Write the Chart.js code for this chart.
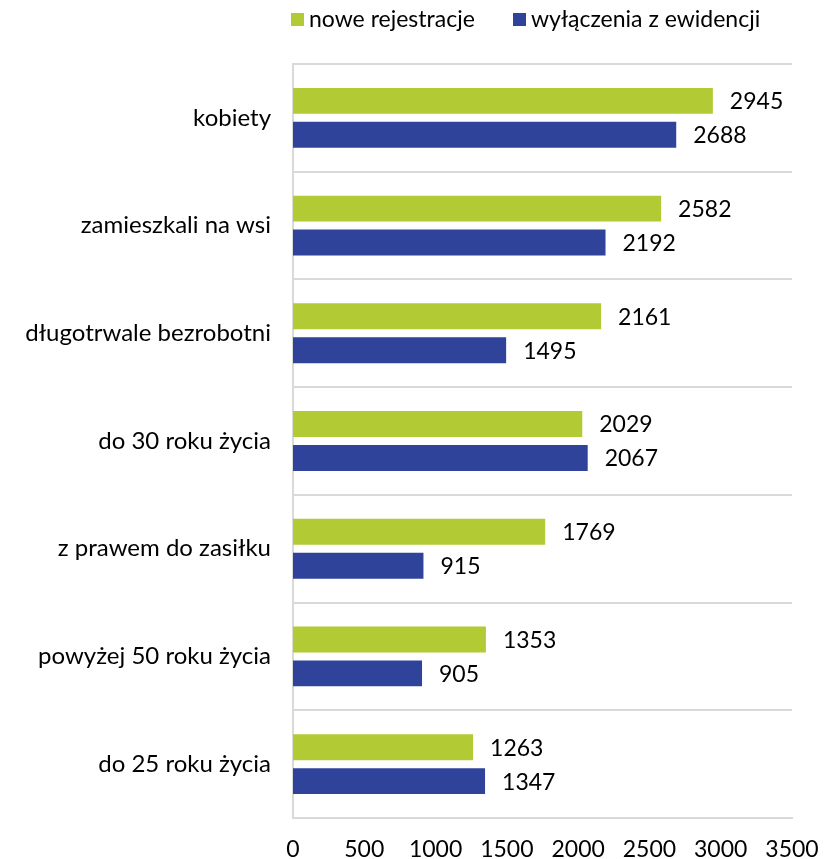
<!DOCTYPE html>
<html lang="pl">
<head>
<meta charset="utf-8">
<title>Nowe rejestracje i wyłączenia z ewidencji</title>
<script src="https://cdn.jsdelivr.net/npm/chart.js@4.4.1/dist/chart.umd.min.js"></script>
<style>
  html, body { margin: 0; padding: 0; background: #ffffff; }
  #wrap { position: relative; width: 825px; height: 859px; }
</style>
</head>
<body>
<div id="wrap"><canvas id="chart" width="825" height="859"></canvas></div>
<script>
const categories = [
  'kobiety',
  'zamieszkali na wsi',
  'długotrwale bezrobotni',
  'do 30 roku życia',
  'z prawem do zasiłku',
  'powyżej 50 roku życia',
  'do 25 roku życia'
];
const seriesNames = ['nowe rejestracje', 'wyłączenia z ewidencji'];
const noweRejestracje = [2945, 2582, 2161, 2029, 1769, 1353, 1263];
const wylaczenia = [2688, 2192, 1495, 2067, 915, 905, 1347];
const xTicks = [0, 500, 1000, 1500, 2000, 2500, 3000, 3500];

const GREEN = '#B2CB35';
const BLUE = '#2E4399';
const FONT = 'Lato, "Open Sans", sans-serif';
const FONT_SIZE = 23;
const CATEGORY_FONT_SIZE = 24;

// value labels at the end of each bar
const valueLabels = {
  id: 'valueLabels',
  afterDatasetsDraw(chart) {
    const ctx = chart.ctx;
    ctx.save();
    ctx.font = FONT_SIZE + 'px ' + FONT;
    ctx.fillStyle = '#000000';
    ctx.textAlign = 'left';
    ctx.textBaseline = 'middle';
    chart.data.datasets.forEach((ds, di) => {
      const meta = chart.getDatasetMeta(di);
      meta.data.forEach((bar, i) => {
        ctx.fillText(String(ds.data[i]), bar.x + 17, bar.y + 1);
      });
    });
    ctx.restore();
  }
};

// legend row above the plot
const topLegend = {
  id: 'topLegend',
  afterDraw(chart) {
    const ctx = chart.ctx;
    ctx.save();
    ctx.font = FONT_SIZE + 'px ' + FONT;
    ctx.textBaseline = 'middle';
    ctx.textAlign = 'left';
    const y = 20;
    const starts = [291, 513];
    chart.data.datasets.forEach((ds, i) => {
      const x = starts[i];
      ctx.fillStyle = ds.backgroundColor;
      ctx.fillRect(x, y - 7, 13, 13);
      ctx.fillStyle = '#000000';
      ctx.fillText(ds.label, x + 18, y);
    });
    ctx.restore();
  }
};

new Chart(document.getElementById('chart'), {
  type: 'bar',
  data: {
    labels: categories,
    datasets: [
      { label: seriesNames[0], data: noweRejestracje, backgroundColor: GREEN,
        barPercentage: 0.765, categoryPercentage: 0.63 },
      { label: seriesNames[1], data: wylaczenia, backgroundColor: BLUE,
        barPercentage: 0.765, categoryPercentage: 0.63 }
    ]
  },
  options: {
    indexAxis: 'y',
    responsive: false,
    animation: false,
    layout: { padding: { top: 64, right: 33, bottom: 0, left: 0 } },
    plugins: {
      legend: { display: false },
      tooltip: { enabled: false }
    },
    scales: {
      x: {
        min: 0,
        max: 3500,
        afterBuildTicks(scale) { scale.ticks = xTicks.map(v => ({ value: v })); },
        afterFit(scale) {
          scale.height = 41;
          scale.paddingLeft = 0;
          scale.paddingRight = 0;
        },
        grid: { display: false, drawTicks: false },
        border: { display: true, color: '#d9d9d9', width: 2 },
        ticks: {
          padding: 18, color: '#000000', font: { family: FONT, size: FONT_SIZE }, maxRotation: 0,
          callback: v => String(v)
        }
      },
      y: {
        afterFit(scale) { scale.width = 293; },
        grid: { display: true, offset: true, drawTicks: false, color: '#d9d9d9', lineWidth: 2 },
        border: { display: true, color: '#d9d9d9', width: 2 },
        ticks: { padding: 22, color: '#000000', font: { family: FONT, size: CATEGORY_FONT_SIZE } }
      }
    }
  },
  plugins: [valueLabels, topLegend]
});
</script>
</body>
</html>
